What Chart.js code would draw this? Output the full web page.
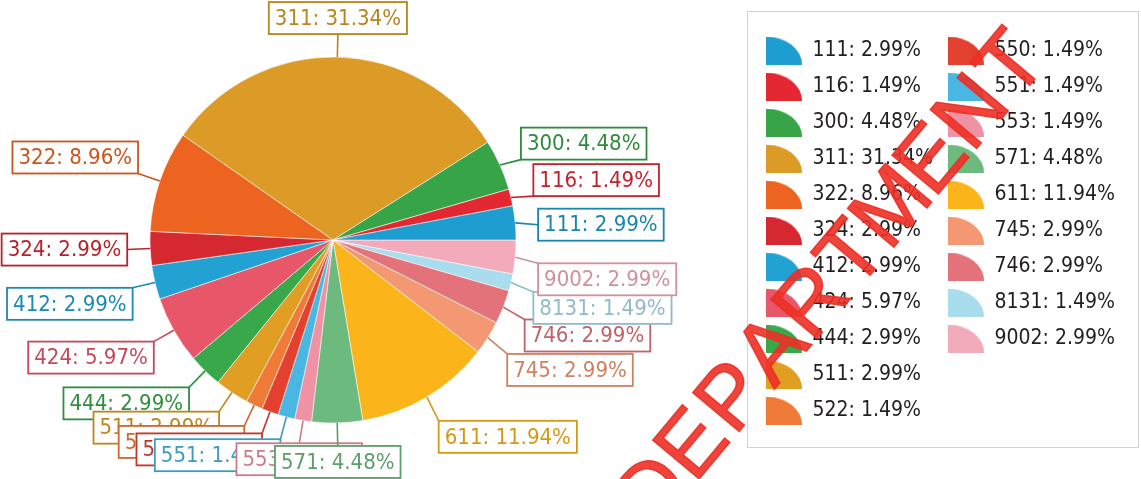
<!DOCTYPE html>
<html>
<head>
<meta charset="utf-8">
<script src="https://cdn.jsdelivr.net/npm/chart.js@4.4.1/dist/chart.umd.min.js"></script>
<style>
  html, body { margin: 0; padding: 0; background: #fff; }
</style>
</head>
<body>
<canvas id="c" width="1141" height="479"></canvas>
<script>
// codes in legend order; the pie runs counter-clockwise from 3 o'clock in this order
const codes = ['111', '116', '300', '311', '322', '324', '412', '424', '444', '511',
               '522', '550', '551', '553', '571', '611', '745', '746', '8131', '9002']
// share of each code, in %
const shares = [2.99, 1.49, 4.48, 31.34, 8.96, 2.99, 2.99, 5.97, 2.99, 2.99,
                1.49, 1.49, 1.49, 1.49, 4.48, 11.94, 2.99, 2.99, 1.49, 2.99]
const colors = ['#1e9dd0', '#e32832', '#36a447', '#dc9a26', '#ed6420', '#d52830', '#21a2d3', '#e8566a', '#38a84a', '#e09e22',
                '#f07a38', '#e4402f', '#4ab6e2', '#ef92a4', '#6cba7e', '#fbb41a', '#f39872', '#e4727a', '#a9dcec', '#f3abbb']
const stampText = 'DEPARTMENT'

const FONT = "'DejaVu Sans Condensed', 'Liberation Sans', sans-serif"
const PIE_CX = 333      // where the pie centre sits
const LEGEND_ITEMS_X = 766 // left edge of the first legend marker

function hasFont(name) {
  const c = document.createElement('canvas').getContext('2d')
  const s = 'mmmmmmmmmmlli 0123456789%'
  c.font = '40px monospace'
  const a = c.measureText(s).width
  c.font = `40px '${name}', monospace`
  return c.measureText(s).width !== a
}

// the legend text is a narrow face; fall back to the condensed one
const narrow = hasFont('Liberation Sans Narrow')
const legendFont = narrow
  ? { family: "'Liberation Sans Narrow', sans-serif", size: 26 }
  : { family: FONT, size: 21 }
const legendPad = 36 - legendFont.size
const stampFont = narrow ? "100px 'Liberation Sans Narrow', sans-serif" : "88px 'Liberation Sans', sans-serif"

// chart.js draws clockwise, so feed it the reversed order
const pieLabels = codes.slice().reverse()
const pieData = shares.slice().reverse()
const pieColors = colors.slice().reverse()

function darken(hex, f) {
  const n = parseInt(hex.slice(1), 16)
  const r = Math.round(((n >> 16) & 255) * f)
  const g = Math.round(((n >> 8) & 255) * f)
  const b = Math.round((n & 255) * f)
  return `rgb(${r},${g},${b})`
}

// quarter-pie legend marker
function quarterIcon(color) {
  const cv = document.createElement('canvas')
  cv.width = 36; cv.height = 28
  const g = cv.getContext('2d')
  g.fillStyle = color
  g.beginPath()
  g.moveTo(0, 28)
  g.ellipse(0, 28, 36, 28, 0, -Math.PI / 2, 0)
  g.closePath()
  g.fill()
  return cv
}

// move legend to the right block and centre the pie on PIE_CX
const placement = {
  id: 'placement',
  afterLayout(chart) {
    const lg = chart.legend
    const dx = LEGEND_ITEMS_X - legendPad - lg.left
    lg.left += dx
    lg.right += dx
    const ca = chart.chartArea
    ca.right = 2 * PIE_CX - ca.left
    ca.width = ca.right - ca.left
  },
  afterDraw(chart) {
    const ctx = chart.ctx
    const lg = chart.legend
    const left = LEGEND_ITEMS_X - 19
    ctx.save()
    ctx.strokeStyle = '#d2d2d2'
    ctx.lineWidth = 1
    ctx.strokeRect(left + 0.5, lg.top - 13.5, chart.width - left - 3, 436)
    ctx.restore()
  }
}

// outside labels in boxes with leader lines
const callouts = {
  id: 'callouts',
  afterDatasetsDraw(chart) {
    const ctx = chart.ctx
    const meta = chart.getDatasetMeta(0)
    const ds = chart.data.datasets[0]
    ctx.save()
    ctx.font = `22px ${FONT}`
    ctx.textAlign = 'center'
    ctx.textBaseline = 'middle'
    for (let i = meta.data.length - 1; i >= 0; i--) {
      const arc = meta.data[i]
      const { x, y, startAngle, endAngle, outerRadius } =
        arc.getProps(['x', 'y', 'startAngle', 'endAngle', 'outerRadius'], true)
      const mid = (startAngle + endAngle) / 2
      const ux = Math.cos(mid), uy = Math.sin(mid)
      let deg = (-mid * 180 / Math.PI) % 360
      if (deg < 0) deg += 360

      const text = `${chart.data.labels[i]}: ${ds.data[i].toFixed(2)}%`
      const col = darken(ds.backgroundColor[i], 0.85)
      const w = ctx.measureText(text).width + 12
      const h = 32
      const px = x + ux * (outerRadius + 23)
      const py = y + uy * (outerRadius + 23)
      const cy = (deg < 10 || (deg >= 180 && deg < 190)) ? 0 : (deg < 180 ? -1 : 1)
      const cx = ((deg >= 80 && deg < 100) || (deg >= 258 && deg < 282)) ? 0 : ((deg < 90 || deg > 270) ? 1 : -1)
      const bx = px + cx * w / 2 - w / 2
      // boxes on the right hang a little lower than their anchor
      const by = py + cy * h / 2 - h / 2 + (cx > 0 ? 4 : 0)

      ctx.strokeStyle = col
      ctx.lineWidth = 1.6
      ctx.beginPath()
      ctx.moveTo(x + ux * outerRadius, y + uy * outerRadius)
      ctx.lineTo(px, py + (cx > 0 ? 4 : 0))
      ctx.stroke()

      ctx.fillStyle = '#ffffff'
      ctx.fillRect(bx, by, w, h)
      ctx.lineWidth = 1.8
      ctx.strokeRect(bx, by, w, h)
      ctx.fillStyle = col
      ctx.fillText(text, bx + w / 2, by + h / 2 + 1)
    }
    ctx.restore()
  }
}

// red rubber stamp across the picture
const stamp = {
  id: 'stamp',
  afterDraw(chart) {
    const ctx = chart.ctx
    ctx.save()
    ctx.font = stampFont
    ctx.fillStyle = 'rgba(236, 48, 38, 0.9)'
    ctx.strokeStyle = 'rgba(236, 48, 38, 0.9)'
    ctx.lineWidth = 1.5
    ctx.textAlign = 'center'
    ctx.textBaseline = 'middle'
    const a = -50 * Math.PI / 180
    let sx = 655, sy = 494
    for (const ch of stampText) {
      ctx.save()
      ctx.translate(sx, sy)
      ctx.rotate(a)
      ctx.fillText(ch, 0, 0)
      ctx.strokeText(ch, 0, 0)
      ctx.restore()
      sx += 62 * Math.cos(a)
      sy += 62 * Math.sin(a)
    }
    ctx.restore()
  }
}

new Chart(document.getElementById('c'), {
  type: 'pie',
  data: {
    labels: pieLabels,
    datasets: [{
      data: pieData,
      backgroundColor: pieColors,
      borderColor: 'rgba(255,255,255,0.55)',
      borderWidth: 1,
      radius: 183
    }]
  },
  options: {
    responsive: false,
    devicePixelRatio: 1,
    animation: false,
    events: [],
    rotation: 90,
    layout: { padding: { top: 25, bottom: 24, left: 0, right: 0 } },
    plugins: {
      tooltip: { enabled: false },
      legend: {
        position: 'right',
        align: 'start',
        labels: {
          usePointStyle: true,
          pointStyleWidth: 36,
          padding: legendPad,
          color: '#231f20',
          font: legendFont,
          sort: (a, b) => b.index - a.index,
          generateLabels(chart) {
            const ds = chart.data.datasets[0]
            return chart.data.labels.map((lab, i) => ({
              text: `${lab}: ${ds.data[i].toFixed(2)}%`,
              fillStyle: ds.backgroundColor[i],
              strokeStyle: ds.backgroundColor[i],
              lineWidth: 0,
              pointStyle: quarterIcon(ds.backgroundColor[i]),
              fontColor: '#231f20',
              hidden: false,
              index: i
            }))
          }
        }
      }
    }
  },
  plugins: [placement, callouts, stamp]
})
</script>
</body>
</html>
